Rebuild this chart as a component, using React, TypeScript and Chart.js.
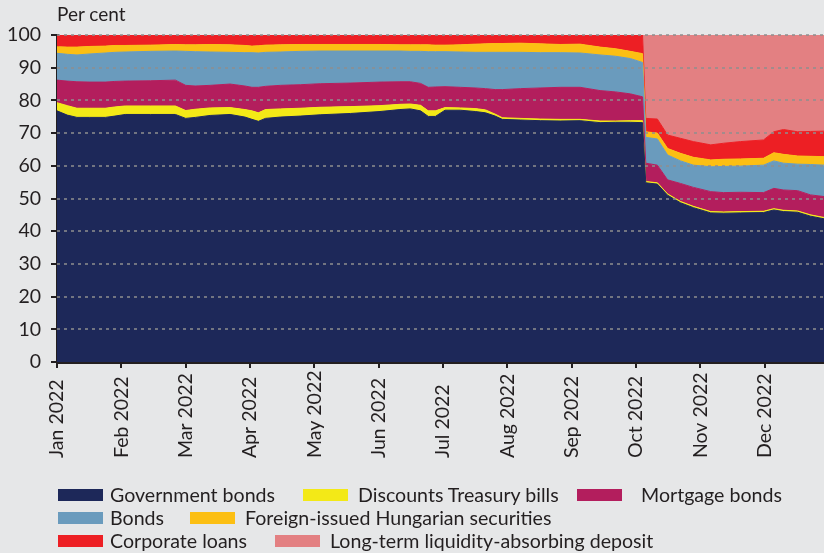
import React, { useEffect, useRef } from 'react';
import { Chart, registerables } from 'chart.js';

Chart.register(...registerables);

// Month tick labels (x axis, one per month start)
const monthLabels = [
  'Jan 2022', 'Feb 2022', 'Mar 2022', 'Apr 2022', 'May 2022', 'Jun 2022',
  'Jul 2022', 'Aug 2022', 'Sep 2022', 'Oct 2022', 'Nov 2022', 'Dec 2022',
];

// Observation positions, in months since 1 January 2022
const xPositions = [
  0.00, 0.16, 0.31, 0.51, 0.75, 0.90, 1.06, 1.45, 1.84, 2.00,
  2.15, 2.38, 2.69, 2.92, 3.03, 3.13, 3.24, 3.47, 3.78, 4.09,
  4.56, 5.02, 5.33, 5.49, 5.65, 5.77, 5.88, 6.03, 6.27, 6.50,
  6.66, 6.81, 6.92, 7.20, 7.51, 7.82, 8.13, 8.44, 8.68, 8.91,
  9.10, 9.15, 9.33, 9.49, 9.69, 9.89, 10.16, 10.36, 10.62, 10.98,
  11.14, 11.29, 11.51, 11.71, 11.92,
];

// Shares, per cent
const governmentBonds = [
  76.8, 75.5, 74.8, 74.8, 74.8, 75.2, 75.7, 75.7, 75.7, 74.5,
  74.8, 75.4, 75.7, 74.9, 74.2, 73.6, 74.5, 74.9, 75.2, 75.6,
  76.0, 76.6, 77.2, 77.4, 76.8, 75.1, 75.1, 77.0, 77.0, 76.6,
  76.2, 75.2, 74.2, 74.0, 73.8, 73.7, 73.8, 73.2, 73.3, 73.3,
  73.2, 54.8, 54.4, 51.0, 48.7, 47.2, 45.6, 45.5, 45.6, 45.7,
  46.5, 46.0, 45.8, 44.6, 43.8,
];
const discountTreasuryBills = [
  2.5, 2.9, 2.8, 2.8, 2.8, 2.8, 2.6, 2.6, 2.6, 2.4,
  2.5, 2.3, 2.1, 2.3, 2.6, 2.6, 2.7, 2.5, 2.4, 2.3,
  2.1, 1.8, 1.6, 1.5, 1.7, 1.7, 1.7, 0.8, 0.7, 0.9,
  0.9, 0.6, 0.5, 0.5, 0.5, 0.5, 0.4, 0.5, 0.4, 0.5,
  0.6, 0.4, 0.4, 0.4, 0.4, 0.4, 0.4, 0.4, 0.4, 0.4,
  0.4, 0.4, 0.4, 0.4, 0.4,
];
const mortgageBonds = [
  6.9, 7.5, 8.1, 8.0, 8.0, 7.8, 7.6, 7.7, 7.9, 7.7,
  7.1, 6.9, 7.2, 7.2, 7.2, 7.8, 7.1, 7.2, 7.2, 7.2,
  7.2, 7.2, 6.9, 6.8, 6.7, 7.2, 7.3, 6.4, 6.3, 6.3,
  6.5, 7.5, 8.6, 9.1, 9.5, 9.8, 9.8, 9.3, 8.9, 8.2,
  7.3, 5.6, 5.4, 4.3, 5.5, 5.8, 6.1, 5.9, 5.9, 5.7,
  6.2, 6.2, 6.2, 6.1, 6.4,
];
const bonds = [
  8.2, 8.2, 8.2, 8.6, 8.9, 8.9, 8.9, 9.0, 8.9, 10.4,
  10.5, 10.2, 9.7, 10.2, 10.6, 10.5, 10.4, 10.2, 10.2, 10.0,
  9.8, 9.5, 9.4, 9.3, 9.8, 10.9, 10.8, 10.7, 10.8, 10.9,
  11.1, 11.4, 11.4, 11.1, 10.8, 10.6, 10.5, 10.9, 10.9, 10.8,
  10.5, 7.9, 8.0, 7.6, 6.9, 6.8, 7.6, 8.0, 8.0, 8.4,
  8.4, 8.2, 8.1, 9.3, 9.6,
];
const foreignIssuedHungarianSecurities = [
  2.0, 2.2, 2.4, 2.3, 2.1, 2.1, 2.0, 1.9, 2.0, 2.0,
  2.1, 2.3, 2.3, 2.2, 2.0, 2.2, 2.2, 2.2, 2.1, 2.0,
  2.0, 2.0, 1.9, 2.0, 2.0, 2.1, 2.0, 2.0, 2.2, 2.5,
  2.6, 2.7, 2.7, 2.8, 2.7, 2.5, 2.7, 2.4, 2.3, 2.2,
  2.7, 1.7, 1.8, 2.0, 2.3, 2.4, 2.1, 2.2, 2.2, 2.1,
  2.5, 2.7, 2.5, 2.5, 2.6,
];
const corporateLoans = [
  3.6, 3.7, 3.7, 3.5, 3.4, 3.2, 3.2, 3.1, 2.9, 3.0,
  3.0, 2.9, 3.0, 3.2, 3.4, 3.3, 3.1, 3.0, 2.9, 2.9,
  2.9, 2.9, 3.0, 3.0, 3.0, 3.0, 3.1, 3.1, 3.0, 2.8,
  2.7, 2.6, 2.6, 2.5, 2.7, 2.9, 2.8, 3.7, 4.2, 5.0,
  5.7, 4.1, 4.3, 4.1, 4.6, 4.8, 4.6, 4.9, 5.3, 5.6,
  6.4, 7.6, 7.4, 7.6, 7.8,
];
const longTermLiquidityDeposit = [
  0, 0, 0, 0, 0, 0, 0, 0, 0, 0,
  0, 0, 0, 0, 0, 0, 0, 0, 0, 0,
  0, 0, 0, 0, 0, 0, 0, 0, 0, 0,
  0, 0, 0, 0, 0, 0, 0, 0, 0, 0,
  0, 25.5, 25.7, 30.6, 31.6, 32.6, 33.6, 33.1, 32.6, 32.1,
  29.6, 28.9, 29.6, 29.5, 29.4,
];

const seriesLabels = [
  'Government bonds',
  'Discounts Treasury bills',
  'Mortgage bonds',
  'Bonds',
  'Foreign-issued Hungarian securities',
  'Corporate loans',
  'Long-term liquidity-absorbing deposit',
];
const seriesValues = [
  governmentBonds,
  discountTreasuryBills,
  mortgageBonds,
  bonds,
  foreignIssuedHungarianSecurities,
  corporateLoans,
  longTermLiquidityDeposit,
];
const seriesColors = ['#1d2859', '#f3e917', '#b31e5d', '#6a9bbd', '#fcbf13', '#ed1f24', '#e38082'];

const TEXT = '#231f20';
const FONT = 'Lato, "Open Sans", sans-serif';

export default function App() {
  const ref = useRef<HTMLCanvasElement | null>(null);

  useEffect(() => {
    document.body.style.margin = '0';
    const canvas = ref.current;
    if (!canvas) return;

    const datasets = seriesLabels.map((label, i) => ({
      label,
      data: seriesValues[i].map((v, j) => ({ x: xPositions[j], y: v })),
      backgroundColor: seriesColors[i],
      borderColor: seriesColors[i],
      borderWidth: i === seriesLabels.length - 1 ? 0 : 1,
      pointRadius: 0,
      tension: 0,
      fill: i === 0 ? 'origin' : '-1',
    }));

    const gridOnTop = {
      id: 'gridOnTop',
      afterDatasetsDraw(chart: any) {
        const { ctx, chartArea, scales } = chart;
        const y = scales.y;
        ctx.save();
        ctx.strokeStyle = '#8e8e8e';
        ctx.lineWidth = 1.5;
        ctx.setLineDash([3, 4]);
        y.ticks.forEach((t: any) => {
          if (t.value === 0) return;
          const py = Math.round(y.getPixelForValue(t.value));
          ctx.beginPath();
          ctx.moveTo(chartArea.left, py);
          ctx.lineTo(chartArea.right, py);
          ctx.stroke();
        });
        ctx.restore();
      },
    };

    const xLabels = {
      id: 'xLabels',
      afterDraw(chart: any) {
        const { ctx, scales } = chart;
        const x = scales.x;
        ctx.save();
        ctx.font = `19.5px ${FONT}`;
        ctx.fillStyle = TEXT;
        ctx.textAlign = 'left';
        ctx.textBaseline = 'middle';
        monthLabels.forEach((lab, i) => {
          const px = x.getPixelForValue(i);
          ctx.save();
          ctx.translate(px, x.top + 96);
          ctx.rotate(-Math.PI / 2);
          ctx.fillText(lab, 0, 0);
          ctx.restore();
        });
        ctx.restore();
      },
    };

    const chart = new Chart(canvas, {
      type: 'line',
      data: { datasets: datasets as any },
      options: {
        responsive: false,
        animation: false,
        layout: { padding: { top: 35, left: 0, right: 0, bottom: 91 } },
        plugins: {
          legend: { display: false },
          tooltip: { enabled: false },
        },
        scales: {
          x: {
            type: 'linear',
            min: 0,
            max: 11.92,
            z: 1,
            grid: { drawOnChartArea: false, color: TEXT, tickLength: 6, lineWidth: 2 },
            border: { color: TEXT, width: 3 },
            ticks: { display: false },
            afterBuildTicks: (s: any) => {
              s.ticks = monthLabels.map((_, i) => ({ value: i }));
            },
            afterFit: (s: any) => {
              s.height = 100;
            },
          },
          y: {
            stacked: true,
            min: 0,
            max: 100,
            z: 1,
            grid: { drawOnChartArea: false, color: TEXT, tickLength: 6, lineWidth: 2 },
            border: { color: TEXT, width: 3 },
            ticks: {
              stepSize: 10,
              color: TEXT,
              padding: 10,
              font: { family: FONT, size: 19.5 },
            },
            afterFit: (s: any) => {
              s.width = 57;
            },
          },
        },
      } as any,
      plugins: [gridOnTop, xLabels],
    });

    return () => chart.destroy();
  }, []);

  const legendItems = [
    { s: 0, row: 0, box: 58, text: 110 },
    { s: 1, row: 0, box: 303, text: 358 },
    { s: 2, row: 0, box: 577, text: 641 },
    { s: 3, row: 1, box: 58, text: 110 },
    { s: 4, row: 1, box: 190, text: 245 },
    { s: 5, row: 2, box: 58, text: 110 },
    { s: 6, row: 2, box: 275, text: 330 },
  ];
  const rowCenters = [495, 518, 541];

  return (
    <div
      style={{
        position: 'fixed',
        left: 0,
        top: 0,
        width: 824,
        height: 553,
        background: '#e6e7e8',
        fontFamily: FONT,
        color: TEXT,
        overflow: 'hidden',
      }}
    >
      <canvas ref={ref} width={824} height={553} style={{ position: 'absolute', left: 0, top: 0, width: 824, height: 553 }} />
      <div style={{ position: 'absolute', left: 57, top: 3, fontSize: 19, lineHeight: '22px' }}>Per cent</div>
      {legendItems.map((it) => (
        <React.Fragment key={it.s}>
          <div
            style={{
              position: 'absolute',
              left: it.box,
              top: rowCenters[it.row] - 6,
              width: 45,
              height: 12,
              background: seriesColors[it.s],
            }}
          />
          <div
            style={{
              position: 'absolute',
              left: it.text,
              top: rowCenters[it.row] - 11,
              fontSize: 19.6,
              lineHeight: '22px',
              whiteSpace: 'nowrap',
            }}
          >
            {seriesLabels[it.s]}
          </div>
        </React.Fragment>
      ))}
    </div>
  );
}
